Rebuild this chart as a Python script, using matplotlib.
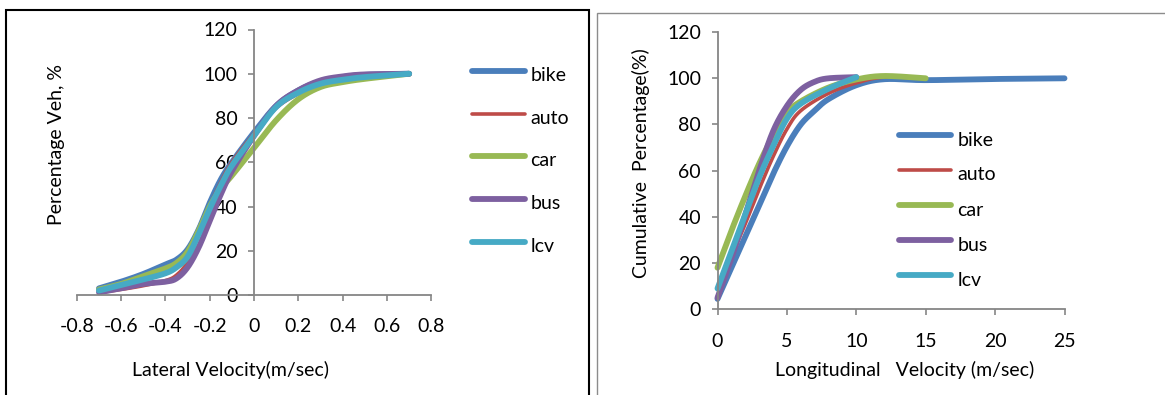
import numpy as np
import matplotlib
matplotlib.use('Agg')
import matplotlib.pyplot as plt
from matplotlib.patches import Rectangle
from matplotlib.lines import Line2D

plt.rcParams['font.family'] = ['Lato', 'DejaVu Sans']

# ---------------- data ----------------
series_names = ['bike', 'auto', 'car', 'bus', 'lcv']

# Lateral velocity (m/sec) vs cumulative percentage
lat_x = [-0.7, -0.6, -0.5, -0.4, -0.35, -0.3, -0.25, -0.2, -0.15, -0.1, 0.0, 0.1, 0.2, 0.3, 0.4, 0.5, 0.7]
lat_bike = [3, 6, 9.5, 13.8, 16, 20.6, 29.6, 41.7, 52.2, 60, 73.5, 85.5, 92.5, 96.5, 98.5, 99.5, 100]
lat_auto = [1, 2.5, 4.2, 6.5, 9, 15, 27, 40, 51, 60, 73, 84.5, 91, 95.5, 97.5, 99, 100]
lat_car = [2.5, 5, 8.5, 12, 14.5, 19.5, 29, 40, 48, 54, 66.5, 79, 88.5, 94, 96.2, 97.7, 100]
lat_bus = [1.2, 3, 5, 6, 7.5, 12.5, 21.5, 33.5, 45.5, 56, 72, 85.5, 92.5, 97, 98.8, 99.7, 100]
lat_lcv = [2, 4.5, 7, 9.8, 12.5, 17.3, 27.5, 39, 49.5, 58.5, 72, 85, 91.5, 95.5, 97.3, 98.5, 100]

# Longitudinal velocity (m/sec) vs cumulative percentage
lon_bike_x = [0, 1, 2, 3, 4, 5, 6, 7, 8, 10, 12, 15, 20, 25]
lon_bike = [4.5, 18, 31.5, 45, 58.5, 70.5, 80, 86, 91, 97, 99.6, 99.2, 99.7, 100]
lon_auto_x = [0, 1, 2, 3, 4, 5, 6, 8, 10, 12, 15]
lon_auto = [9.5, 23, 37, 52, 66, 78, 86, 93.5, 98, 100.5, 100]
lon_car_x = [0, 1, 2, 3, 4, 5, 6, 8, 10, 12, 15]
lon_car = [18, 34, 49, 63, 75, 85, 90, 96, 99.5, 101, 100]
lon_bus_x = [0, 1, 2, 3, 4, 5, 6, 7, 8, 10]
lon_bus = [5, 22, 41, 60, 77, 88, 95, 98.5, 100, 100.5]
lon_lcv_x = [0, 1, 2, 3, 4, 5, 6, 8, 10]
lon_lcv = [9, 25, 41, 57, 70.5, 82.5, 89, 95.5, 100.5]

lat_ticks = [-0.8, -0.6, -0.4, -0.2, 0, 0.2, 0.4, 0.6, 0.8]
lat_ticklabels = ['-0.8', '-0.6', '-0.4', '-0.2', '0', '0.2', '0.4', '0.6', '0.8']
lon_ticks = [0, 5, 10, 15, 20, 25]
y_ticks = [0, 20, 40, 60, 80, 100, 120]

# ---------------- style ----------------
colors = ['#4A7EBB', '#BE4B48', '#98B954', '#7D60A0', '#46AAC5']
widths = [4.2, 2.6, 4.2, 4.2, 4.2]
axis_color = '#868686'
FS = 14
W, H = 1165, 395


def smooth(x, y, n=40):
    P = np.column_stack([x, y]).astype(float)
    segs = []
    for i in range(len(P) - 1):
        p0 = P[i - 1] if i > 0 else P[i]
        p1, p2 = P[i], P[i + 1]
        p3 = P[i + 2] if i + 2 < len(P) else P[i + 1]
        c1 = p1 + (p2 - p0) / 6.0
        c2 = p2 - (p3 - p1) / 6.0
        t = np.linspace(0, 1, n)[:, None]
        seg = (1 - t) ** 3 * p1 + 3 * (1 - t) ** 2 * t * c1 + 3 * (1 - t) * t ** 2 * c2 + t ** 3 * p2
        segs.append(seg if i == 0 else seg[1:])
    a = np.vstack(segs)
    return a[:, 0], a[:, 1]


def fx(px):
    return px / W


def fy(py):
    return 1 - py / H


def style_axes(ax):
    for s in ['top', 'right']:
        ax.spines[s].set_visible(False)
    for s in ['left', 'bottom']:
        ax.spines[s].set_color(axis_color)
        ax.spines[s].set_linewidth(1.3)
    ax.tick_params(direction='out', length=4.3, width=1.2, color=axis_color,
                   labelsize=FS)
    ax.tick_params(axis='x', pad=12.5)
    ax.tick_params(axis='y', pad=7.5)


fig = plt.figure(figsize=(W / 100, H / 100), dpi=100)

# ---------- left chart ----------
ax1 = fig.add_axes([fx(76.8), fy(295), fx(431.3) - fx(76.8), fy(29.5) - fy(295)])
ax1.set_xlim(-0.8, 0.8)
ax1.set_ylim(0, 120)
style_axes(ax1)
ax1.spines['left'].set_position(('data', 0))
ax1.spines['bottom'].set_position(('data', 0))
ax1.set_xticks(lat_ticks)
ax1.set_xticklabels(lat_ticklabels)
ax1.set_yticks(y_ticks)
lat_data = [lat_bike, lat_auto, lat_car, lat_bus, lat_lcv]
for name, ys, c, lw in zip(series_names, lat_data, colors, widths):
    sx, sy = smooth(lat_x, ys)
    ax1.plot(sx, sy, color=c, lw=lw, solid_capstyle='round', clip_on=False)

# ---------- right chart ----------
ax2 = fig.add_axes([fx(717.5), fy(309.3), fx(1064.5) - fx(717.5), fy(32.1) - fy(309.3)])
ax2.set_xlim(0, 25)
ax2.set_ylim(0, 120)
style_axes(ax2)
ax2.set_xticks(lon_ticks)
ax2.set_yticks(y_ticks)
lon_data = [(lon_bike_x, lon_bike), (lon_auto_x, lon_auto), (lon_car_x, lon_car),
            (lon_bus_x, lon_bus), (lon_lcv_x, lon_lcv)]
for name, (xs, ys), c, lw in zip(series_names, lon_data, colors, widths):
    sx, sy = smooth(xs, ys)
    ax2.plot(sx, sy, color=c, lw=lw, solid_capstyle='round', clip_on=False)

# ---------- legends ----------
def legend(x0, x1, xt, ys, dy):
    for name, c, lw, y in zip(series_names, colors, widths, ys):
        fig.add_artist(Line2D([fx(x0), fx(x1)], [fy(y), fy(y)], color=c, lw=lw,
                              solid_capstyle='round', transform=fig.transFigure))
        fig.text(fx(xt), fy(y + dy), name, fontsize=FS, va='baseline', ha='left')


legend(472, 525, 530.5, [70.7, 113.7, 156.3, 199.3, 242.3], 10)
legend(899, 951, 957.5, [135, 170, 205, 240, 275], 10.5)

# ---------- axis titles ----------
fig.text(fx(56.5), fy(145), 'Percentage Veh, %', rotation=90, fontsize=FS, ha='center', va='center')
fig.text(fx(231), fy(370), 'Lateral Velocity(m/sec)', fontsize=FS, ha='center', va='center')
fig.text(fx(640.5), fy(163.5), 'Cumulative  Percentage(%)', rotation=90, fontsize=FS, ha='center', va='center')
fig.text(fx(904.5), fy(370), 'Longitudinal   Velocity (m/sec)', fontsize=FS, ha='center', va='center')

# ---------- panel frames ----------
fig.add_artist(Rectangle((fx(6), -0.1), fx(589) - fx(6), fy(10) + 0.1, fill=False,
                         ec='black', lw=1.5, transform=fig.transFigure))
fig.add_artist(Rectangle((fx(597), -0.1), 0.5, fy(12.7) + 0.1, fill=False,
                         ec='#8c8c8c', lw=1.0, transform=fig.transFigure))

fig.savefig('out.png', dpi=100)
